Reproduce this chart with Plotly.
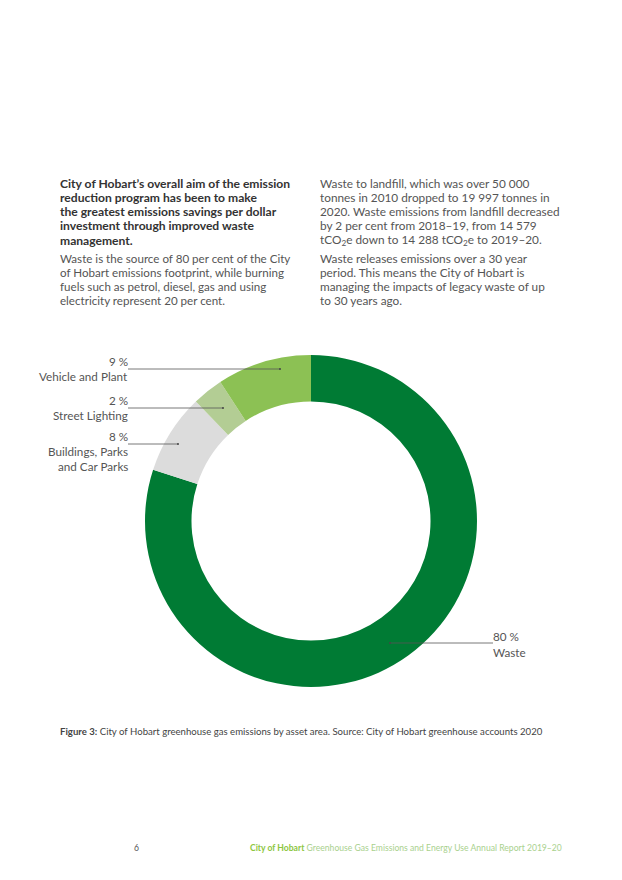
import plotly.graph_objects as go

W, H = 622, 880
OFF = 8  # page body margin of the browser

# ---- data ----
categories = ["Waste", "Buildings, Parks and Car Parks", "Street Lighting", "Vehicle and Plant"]
shares = [80.0, 7.8, 3.0, 9.2]
label_pct = ["80 %", "8 %", "2 %", "9 %"]
label_name = ["Waste", "Buildings, Parks<br>and Car Parks", "Street Lighting", "Vehicle and Plant"]
colors = ["#007B34", "#DCDCDC", "#B3CD94", "#8CC154"]

def px(x):
    return (x - OFF) / W

def py(y):
    return 1 - (y - OFF) / H

FONT = "Lato"
cx, cy, R = 311, 521, 166

fig = go.Figure()
fig.add_trace(go.Pie(
    labels=categories, values=shares, sort=False, direction="clockwise",
    rotation=0, hole=0.72, textinfo="none", hoverinfo="label+percent",
    marker=dict(colors=colors, line=dict(width=0)),
    domain=dict(x=[px(cx - R), px(cx + R)], y=[py(cy + R), py(cy - R)]),
    showlegend=False,
))

shapes = []
annotations = []

def text(x, y, t, size, color, xanchor="left", yanchor="middle", align="left"):
    annotations.append(dict(xref="paper", yref="paper", x=px(x), y=py(y),
                            xanchor=xanchor, yanchor=yanchor, align=align,
                            text=t, showarrow=False,
                            font=dict(family=FONT, size=size, color=color)))

LBL = 11.7
LC = "#555555"
# leader lines (left side labels) : (line y, dot x)
left_lines = {3: (369, 280), 2: (408, 223), 1: (444, 178)}
for i, (ly, dx) in left_lines.items():
    shapes.append(dict(type="line", xref="paper", yref="paper",
                       x0=px(128), x1=px(dx), y0=py(ly), y1=py(ly),
                       line=dict(color="#555555", width=0.8)))
    shapes.append(dict(type="circle", xref="paper", yref="paper",
                       x0=px(dx - 1), x1=px(dx + 1), y0=py(ly - 1), y1=py(ly + 1),
                       fillcolor="#444444", line=dict(width=0)))
    text(130, ly - 8, label_pct[i], LBL, LC, xanchor="right", align="right")
    names = label_name[i].split("<br>")
    for k, nm in enumerate(names):
        text(130, ly + 7 + 15 * k, nm, LBL, LC, xanchor="right", align="right")

# waste leader (right side)
wy = 643
shapes.append(dict(type="line", xref="paper", yref="paper",
                   x0=px(390), x1=px(493), y0=py(wy), y1=py(wy),
                   line=dict(color="#555555", width=0.8)))
shapes.append(dict(type="circle", xref="paper", yref="paper",
                   x0=px(389), x1=px(391), y0=py(wy - 1), y1=py(wy + 1),
                   fillcolor="#444444", line=dict(width=0)))
text(491, wy - 7, label_pct[0], LBL, LC)
text(491, wy + 9, label_name[0], LBL, LC)

# body text
left_bold = ["City of Hobart’s overall aim of the emission",
             "reduction program has been to make",
             "the greatest emissions savings per dollar",
             "investment through improved waste",
             "management."]
left_reg = ["Waste is the source of 80 per cent of the City",
            "of Hobart emissions footprint, while burning",
            "fuels such as petrol, diesel, gas and using",
            "electricity represent 20 per cent."]
right_1 = ["Waste to landfill, which was over 50 000",
           "tonnes in 2010 dropped to 19 997 tonnes in",
           "2020. Waste emissions from landfill decreased",
           "by 2 per cent from 2018–19, from 14 579",
           "tCO<sub>2</sub>e down to 14 288 tCO<sub>2</sub>e to 2019–20."]
right_2 = ["Waste releases emissions over a 30 year",
           "period. This means the City of Hobart is",
           "managing the impacts of legacy waste of up",
           "to 30 years ago."]

for k, ln in enumerate(left_bold):
    text(58, 183 + 14.3 * k, "<b>" + ln + "</b>", 12.1, "#333333")
for k, ln in enumerate(left_reg):
    text(58, 258 + 14 * k, ln, 11.6, "#555555")
for k, ln in enumerate(right_1):
    text(318, 183 + 14.3 * k, ln, 11.8, "#555555")
for k, ln in enumerate(right_2):
    text(318, 258 + 14 * k, ln, 11.8, "#555555")

text(58, 731, "<b>Figure 3:</b> City of Hobart greenhouse gas emissions by asset area. "
              "Source: City of Hobart greenhouse accounts 2020", 9.6, "#444444")

text(132, 848, "6", 8.6, "#555555")
text(248, 848, "<b><span style='color:#8DC63F'>City of Hobart</span></b> "
               "Greenhouse Gas Emissions and Energy Use Annual Report 2019–20", 8.6, "#A9D18E")

fig.update_layout(
    width=W, height=H, margin=dict(l=0, r=0, t=0, b=0),
    paper_bgcolor="white", plot_bgcolor="white",
    shapes=shapes, annotations=annotations,
)

fig.write_html("out.html")
